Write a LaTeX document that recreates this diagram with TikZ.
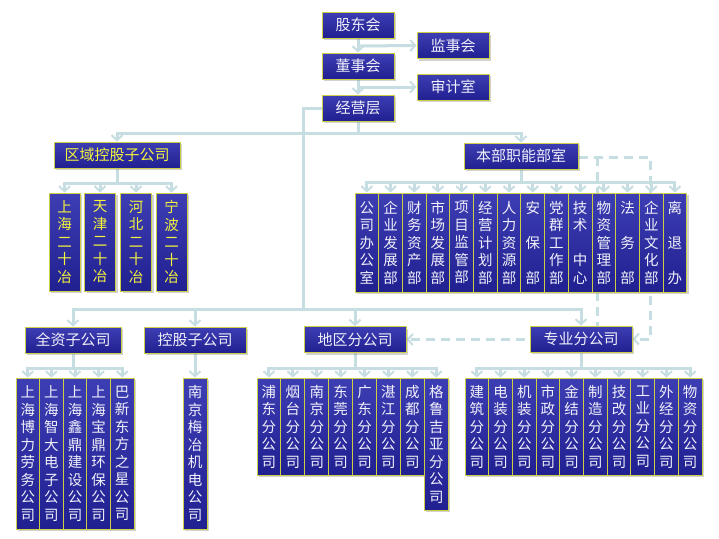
\documentclass[tikz,border=0pt]{standalone}
\usepackage{fontspec}
\newfontfamily\cjk{Noto Sans CJK SC}
\usetikzlibrary{arrows.meta,shadows}
\pgfdeclarelayer{background}
\pgfdeclarelayer{paper}
\pgfsetlayers{paper,background,main}
\definecolor{boxtop}{RGB}{62,62,180}
\definecolor{boxbot}{RGB}{32,32,145}
\definecolor{boxedge}{RGB}{205,205,70}
\definecolor{linec}{RGB}{198,222,226}
\definecolor{txtw}{RGB}{240,240,250}
\definecolor{txty}{RGB}{245,245,60}
\newcommand\gapch{\phantom{口}}
\tikzset{
 orgbox/.style={draw=boxedge, line width=1pt, top color=boxtop, bottom color=boxbot,
   inner sep=0pt, text=txtw, align=center,
   drop shadow={shadow xshift=2pt, shadow yshift=-2pt, opacity=0.35},
   font=\cjk\fontsize{15}{17.5}\selectfont},
 hbox/.style={orgbox, minimum height=26pt},
 vbox/.style={orgbox, minimum width=23.7pt, font=\cjk\fontsize{14.5}{17.5}\selectfont},
 yel/.style={text=txty},
 conn/.style={draw=linec, line width=3pt, line cap=rect},
 arr/.style={draw=linec, line width=3pt, -{Straight Barb[length=5pt,width=11pt,line width=2pt]}},
 dashline/.style={draw=linec, line width=3pt, dash pattern=on 9pt off 6pt},
 dasharr/.style={dashline, -{Straight Barb[length=5pt,width=11pt,line width=2pt]}},
}
\begin{document}
\begin{tikzpicture}[x=1pt,y=-1pt]
\begin{pgfonlayer}{paper}
\fill[white] (0,0) rectangle (719,538);
\end{pgfonlayer}
\useasboundingbox (0,0) rectangle (719,538);

% top chain
\node[hbox, minimum width=72pt] (gdh) at (358,25) {股东会};
\node[hbox, minimum width=72pt] (jsh) at (453,45.5) {监事会};
\node[hbox, minimum width=72pt] (dsh) at (358,66) {董事会};
\node[hbox, minimum width=72pt] (sjs) at (453,87) {审计室};
\node[hbox, minimum width=72pt] (jyc) at (358,108) {经营层};

\node[hbox, yel, minimum width=126pt] (qykg) at (117,155) {区域控股子公司};
\node[hbox, minimum width=114pt] (bbzn) at (521,156) {本部职能部室};

\node[hbox, minimum width=96pt] (qzz) at (73,340) {全资子公司};
\node[hbox, minimum width=102pt] (kgz) at (195,340) {控股子公司};
\node[hbox, minimum width=102pt] (dqf) at (355,339.5) {地区分公司};
\node[hbox, minimum width=102pt] (zyf) at (581,339) {专业分公司};

% regional children
\foreach \t/\x [count=\i] in {上\\海\\二\\十\\冶/64.5, 天\\津\\二\\十\\冶/100, 河\\北\\二\\十\\冶/136, 宁\\波\\二\\十\\冶/171.5}
  \node[vbox, yel, minimum width=31pt, minimum height=98pt] (q\i) at (\x,242) {\t};

% headquarters departments
\foreach \t [count=\i] in {公\\司\\办\\公\\室, 企\\业\\发\\展\\部, 财\\务\\资\\产\\部, 市\\场\\发\\展\\部,
  项\\目\\监\\管\\部, 经\\营\\计\\划\\部, 人\\力\\资\\源\\部, 安\\\gapch\\保\\\gapch\\部,
  党\\群\\工\\作\\部, 技\\术\\\gapch\\中\\心, 物\\资\\管\\理\\部, 法\\\gapch\\务\\\gapch\\部,
  企\\业\\文\\化\\部, 离\\\gapch\\退\\\gapch\\办}
  \node[vbox, minimum height=99pt] (b\i) at ({355+23.7*(\i-0.5)},242.5) {\t};

% wholly owned
\foreach \t [count=\i] in {上\\海\\博\\力\\劳\\务\\公\\司, 上\\海\\智\\大\\电\\子\\公\\司,
  上\\海\\鑫\\鼎\\建\\设\\公\\司, 上\\海\\宝\\鼎\\环\\保\\公\\司, 巴\\新\\东\\方\\之\\星\\公\\司}
  \node[vbox, minimum width=23.6pt, minimum height=151pt] (w\i) at ({16+23.6*(\i-0.5)},453.5) {\t};

% holding
\node[vbox, minimum width=24pt, minimum height=151pt] (k1) at (195,453.5) {南\\京\\梅\\冶\\机\\电\\公\\司};

% regional branches
\foreach \t [count=\i] in {浦\\东\\分\\公\\司, 烟\\台\\分\\公\\司, 南\\京\\分\\公\\司, 东\\莞\\分\\公\\司,
  广\\东\\分\\公\\司, 湛\\江\\分\\公\\司, 成\\都\\分\\公\\司}
  \node[vbox, minimum width=23.9pt, minimum height=97pt] (r\i) at ({257+23.9*(\i-0.5)},426.5) {\t};
\node[vbox, minimum width=23.9pt, minimum height=132pt] (r8) at ({257+23.9*7.5},444) {格\\鲁\\吉\\亚\\分\\公\\司};

% specialised branches
\foreach \t [count=\i] in {建\\筑\\分\\公\\司, 电\\装\\分\\公\\司, 机\\装\\分\\公\\司, 市\\政\\分\\公\\司,
  金\\结\\分\\公\\司, 制\\造\\分\\公\\司, 技\\改\\分\\公\\司, 工\\业\\分\\公\\司, 外\\经\\分\\公\\司, 物\\资\\分\\公\\司}
  \node[vbox, minimum height=97pt] (s\i) at ({465+23.7*(\i-0.5)},426.5) {\t};

% bus coordinates
\coordinate (c1) at (358,46);
\coordinate (c2) at (358,87);
\coordinate (bus0) at (358,133);
\coordinate (m0) at (303,108);
\coordinate (bus1) at (303,309);
\coordinate (busq) at (117,183);
\coordinate (busb) at (521,182);
\coordinate (busl) at (0,368);
\coordinate (d1) at (650,157);
\coordinate (d2) at (597,157);

\begin{pgfonlayer}{background}
 \draw[arr] (gdh.south) -- (dsh.north);
 \draw[arr] (c1) -- (jsh.west);
 \draw[arr] (dsh.south) -- (jyc.north);
 \draw[arr] (c2) -- (sjs.west);
 % to regional holding / HQ departments
 \draw[conn] (jyc.south) -- (bus0);
 \draw[conn] (qykg.north |- bus0) -- (bbzn.north |- bus0);
 \draw[arr] (qykg.north |- bus0) -- (qykg.north);
 \draw[arr] (bbzn.north |- bus0) -- (bbzn.north);
 % to subsidiaries / branches
 \draw[conn] (jyc.west) -- (m0) -- (bus1);
 \draw[conn] (qzz.north |- bus1) -- (zyf.north |- bus1);
 \foreach \n in {qzz,kgz,dqf,zyf} \draw[arr] (\n.north |- bus1) -- (\n.north);
 % regional children
 \draw[conn] (qykg.south) -- (busq);
 \draw[conn] (q1.north |- busq) -- (q4.north |- busq);
 \foreach \i in {1,...,4} \draw[arr] (q\i.north |- busq) -- (q\i.north);
 % HQ departments
 \draw[conn] (bbzn.south) -- (busb);
 \draw[conn] (b1.north |- busb) -- (b14.north |- busb);
 \foreach \i in {1,...,14} \draw[arr] (b\i.north |- busb) -- (b\i.north);
 % wholly owned
 \draw[conn] (qzz.south) -- (qzz.south |- busl);
 \draw[conn] (w1.north |- busl) -- (w5.north |- busl);
 \foreach \i in {1,...,5} \draw[arr] (w\i.north |- busl) -- (w\i.north);
 % holding
 \draw[arr] (kgz.south) -- (k1.north);
 % regional branches
 \draw[conn] (dqf.south) -- (dqf.south |- busl);
 \draw[conn] (r1.north |- busl) -- (r8.north |- busl);
 \foreach \i in {1,...,8} \draw[arr] (r\i.north |- busl) -- (r\i.north);
 % specialised branches
 \draw[conn] (zyf.south) -- (zyf.south |- busl);
 \draw[conn] (s1.north |- busl) -- (s10.north |- busl);
 \foreach \i in {1,...,10} \draw[arr] (s\i.north |- busl) -- (s\i.north);
 % dashed relations
 \draw[dasharr] (bbzn.east |- d1) -- (d1) |- (zyf.east);
 \draw[dasharr] (d2) |- (dqf.east);
\end{pgfonlayer}
\end{tikzpicture}
\end{document}
